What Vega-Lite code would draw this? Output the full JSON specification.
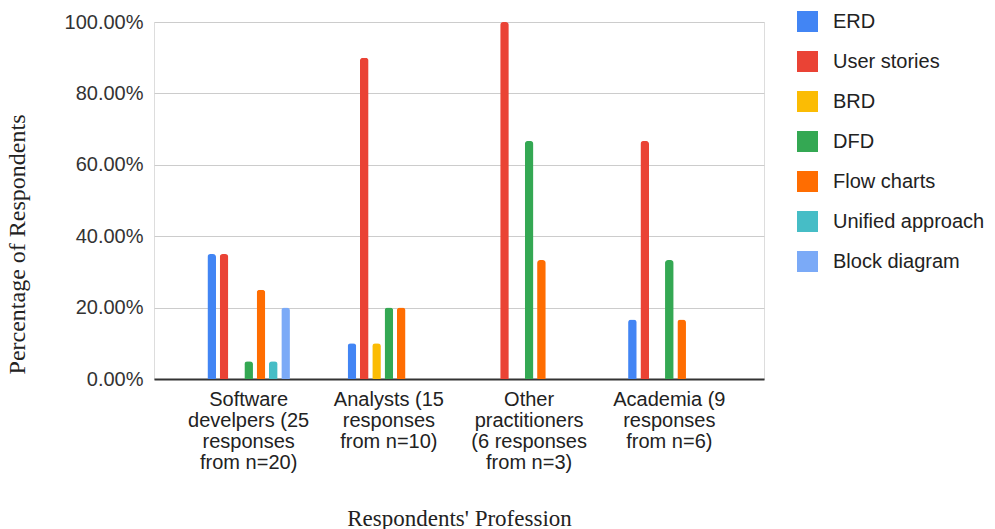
{
  "$schema": "https://vega.github.io/schema/vega-lite/v6.json",
  "autosize": "none",
  "padding": {"left": 154, "top": 22, "right": 231, "bottom": 150},
  "width": 610,
  "height": 357,
  "background": "white",
  "data": {"values": [
    {"group": "Software", "type": "ERD", "value": 0.35},
    {"group": "Software", "type": "User stories", "value": 0.35},
    {"group": "Software", "type": "BRD", "value": 0},
    {"group": "Software", "type": "DFD", "value": 0.05},
    {"group": "Software", "type": "Flow charts", "value": 0.25},
    {"group": "Software", "type": "Unified approach", "value": 0.05},
    {"group": "Software", "type": "Block diagram", "value": 0.20},
    {"group": "Analysts", "type": "ERD", "value": 0.10},
    {"group": "Analysts", "type": "User stories", "value": 0.90},
    {"group": "Analysts", "type": "BRD", "value": 0.10},
    {"group": "Analysts", "type": "DFD", "value": 0.20},
    {"group": "Analysts", "type": "Flow charts", "value": 0.20},
    {"group": "Analysts", "type": "Unified approach", "value": 0},
    {"group": "Analysts", "type": "Block diagram", "value": 0},
    {"group": "Other", "type": "ERD", "value": 0},
    {"group": "Other", "type": "User stories", "value": 1.0},
    {"group": "Other", "type": "BRD", "value": 0},
    {"group": "Other", "type": "DFD", "value": 0.6667},
    {"group": "Other", "type": "Flow charts", "value": 0.3333},
    {"group": "Other", "type": "Unified approach", "value": 0},
    {"group": "Other", "type": "Block diagram", "value": 0},
    {"group": "Academia", "type": "ERD", "value": 0.1667},
    {"group": "Academia", "type": "User stories", "value": 0.6667},
    {"group": "Academia", "type": "BRD", "value": 0},
    {"group": "Academia", "type": "DFD", "value": 0.3333},
    {"group": "Academia", "type": "Flow charts", "value": 0.1667},
    {"group": "Academia", "type": "Unified approach", "value": 0},
    {"group": "Academia", "type": "Block diagram", "value": 0}
  ]},
  "mark": {"type": "bar", "cornerRadiusTopLeft": 3, "cornerRadiusTopRight": 3},
  "encoding": {
    "x": {
      "field": "group", "type": "nominal",
      "sort": ["Software", "Analysts", "Other", "Academia"],
      "scale": {"paddingInner": 0.35, "paddingOuter": 0.35},
      "axis": {
        "title": "Respondents' Profession",
        "titleFont": "Liberation Serif", "titleFontSize": 23, "titleFontWeight": "normal", "titleColor": "#222",
        "titleY": 139, "titleBaseline": "middle",
        "labelAngle": 0, "labelFont": "Liberation Sans", "labelFontSize": 20, "labelColor": "#222",
        "labelBaseline": "top", "labelPadding": 10, "labelLineHeight": 21,
        "labelExpr": "datum.value == 'Software' ? ['Software','develpers (25','responses','from n=20)'] : datum.value == 'Analysts' ? ['Analysts (15','responses','from n=10)'] : datum.value == 'Other' ? ['Other','practitioners','(6 responses','from n=3)'] : ['Academia (9','responses','from n=6)']",
        "ticks": false, "domainColor": "#333", "domainWidth": 2, "grid": false
      }
    },
    "xOffset": {
      "field": "type", "type": "nominal",
      "sort": ["ERD", "User stories", "BRD", "DFD", "Flow charts", "Unified approach", "Block diagram"],
      "scale": {"paddingInner": 0.3, "paddingOuter": 0.35}
    },
    "y": {
      "field": "value", "type": "quantitative",
      "scale": {"domain": [0, 1]},
      "axis": {
        "title": "Percentage of Respondents",
        "titleFont": "Liberation Serif", "titleFontSize": 24, "titleFontWeight": "normal", "titleColor": "#222",
        "titleX": -137, "titleY": 222, "titleAlign": "center", "titleBaseline": "middle", "titleAngle": -90,
        "format": ".2%", "values": [0, 0.2, 0.4, 0.6, 0.8, 1.0],
        "labelFont": "Liberation Sans", "labelFontSize": 20, "labelColor": "#333", "labelPadding": 11,
        "ticks": false, "domain": false, "gridColor": "#cccccc", "gridWidth": 1
      }
    },
    "color": {
      "field": "type", "type": "nominal",
      "sort": ["ERD", "User stories", "BRD", "DFD", "Flow charts", "Unified approach", "Block diagram"],
      "scale": {
        "domain": ["ERD", "User stories", "BRD", "DFD", "Flow charts", "Unified approach", "Block diagram"],
        "range": ["#4285F4", "#EA4335", "#FBBC04", "#34A853", "#FF6D01", "#46BDC6", "#7BAAF7"]
      },
      "legend": {
        "title": null, "orient": "none", "legendX": 643, "legendY": -11, "padding": 0,
        "symbolType": "square", "symbolSize": 441, "symbolStrokeWidth": 0,
        "labelFont": "Liberation Sans", "labelFontSize": 20, "labelColor": "#222",
        "labelOffset": 15, "rowPadding": 19
      }
    }
  }
}
